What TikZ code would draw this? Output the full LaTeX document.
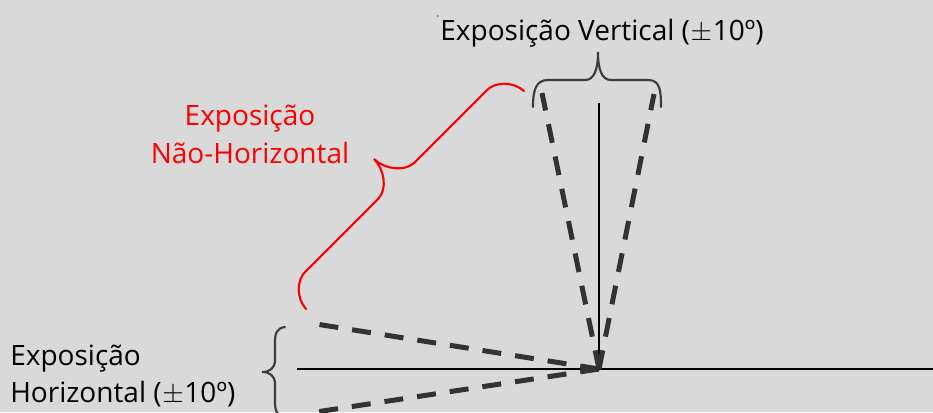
\documentclass[tikz,border=0pt]{standalone}
\usepackage{fontspec}
\setmainfont{Open Sans}
\definecolor{bg}{HTML}{D9D9D9}
\definecolor{dashgray}{HTML}{333333}
\definecolor{bracegray}{HTML}{3C3C3C}
\definecolor{redtxt}{HTML}{FF0000}
\newcommand{\pmsign}{\kern0.5pt$\pm$\kern0.5pt}
\begin{document}
\begin{tikzpicture}[x=0.75pt,y=-0.75pt,
  lbl/.style={inner sep=0pt,font=\fontsize{21}{25}\selectfont},
  solidline/.style={black,line width=2.2pt},
  dashline/.style={dashgray,line width=3.75pt,dash pattern=on 14.25pt off 10.5pt},
  bracegrp/.style={bracegray,line width=1.6pt,line cap=round},
  redbrace/.style={redtxt,line width=1.6pt,line cap=round}]
\fill[bg] (0,0) rectangle (933,412);
\useasboundingbox (0,0) rectangle (933,412);
\begin{scope}
\clip (0,0) rectangle (933,412);
% coordinates
\coordinate (O) at (599,369);
\coordinate (H) at (297,369);
\coordinate (Hend) at (940,369);
\coordinate (V) at (599,103);
\coordinate (VL) at (542,93);
\coordinate (VR) at (654,94);
\coordinate (HU) at (316,324);
\coordinate (HD) at (316,412);
% solid axes
\draw[solidline] (H) -- (Hend);
\draw[solidline] (O) -- (V);
% dashed lines
\draw[dashline] (O) -- (VL);
\draw[dashline] (O) -- (VR);
\draw[dashline] (O) -- (HU);
\draw[dashline] (O) -- (HD);
% top brace
\draw[bracegrp] (533,107) .. controls (533,90) and (536,80) .. (548,80) -- (585,80)
  .. controls (594,80) and (598,70) .. (598,52)
  .. controls (598,70) and (602,80) .. (611,80) -- (648,80)
  .. controls (660,80) and (661,90) .. (661,107);
% left brace
\draw[bracegrp] (285,327) .. controls (277,328) and (275,333) .. (275,342) -- (275,360)
  .. controls (275,368) and (270,372) .. (262,372)
  .. controls (270,372) and (275,376) .. (275,384) -- (275,402)
  .. controls (275,411) and (277,416) .. (285,417);
% red brace
\draw[redbrace] (306,309) .. controls (296,298) and (297,280) .. (305,272) -- (378,199)
  .. controls (388,189) and (384,169) .. (374,159)
  .. controls (384,169) and (404,172) .. (414,163) -- (487,90)
  .. controls (495,82) and (513,81) .. (524,91);
% dot
\fill[black] (437.7,16) circle (0.6);
\end{scope}
% labels
\node[lbl,anchor=base] (tv) at (602,40) {Exposição Vertical (\pmsign10º)};
\node[lbl,anchor=base,text=redtxt] (tn1) at (250,125) {Exposição};
\node[lbl,anchor=base,text=redtxt] (tn2) at (250,163) {Não-Horizontal};
\node[lbl,anchor=base west] (th1) at (10,365) {Exposição};
\node[lbl,anchor=base west] (th2) at (10,402) {Horizontal (\pmsign10º)};
\end{tikzpicture}
\end{document}
